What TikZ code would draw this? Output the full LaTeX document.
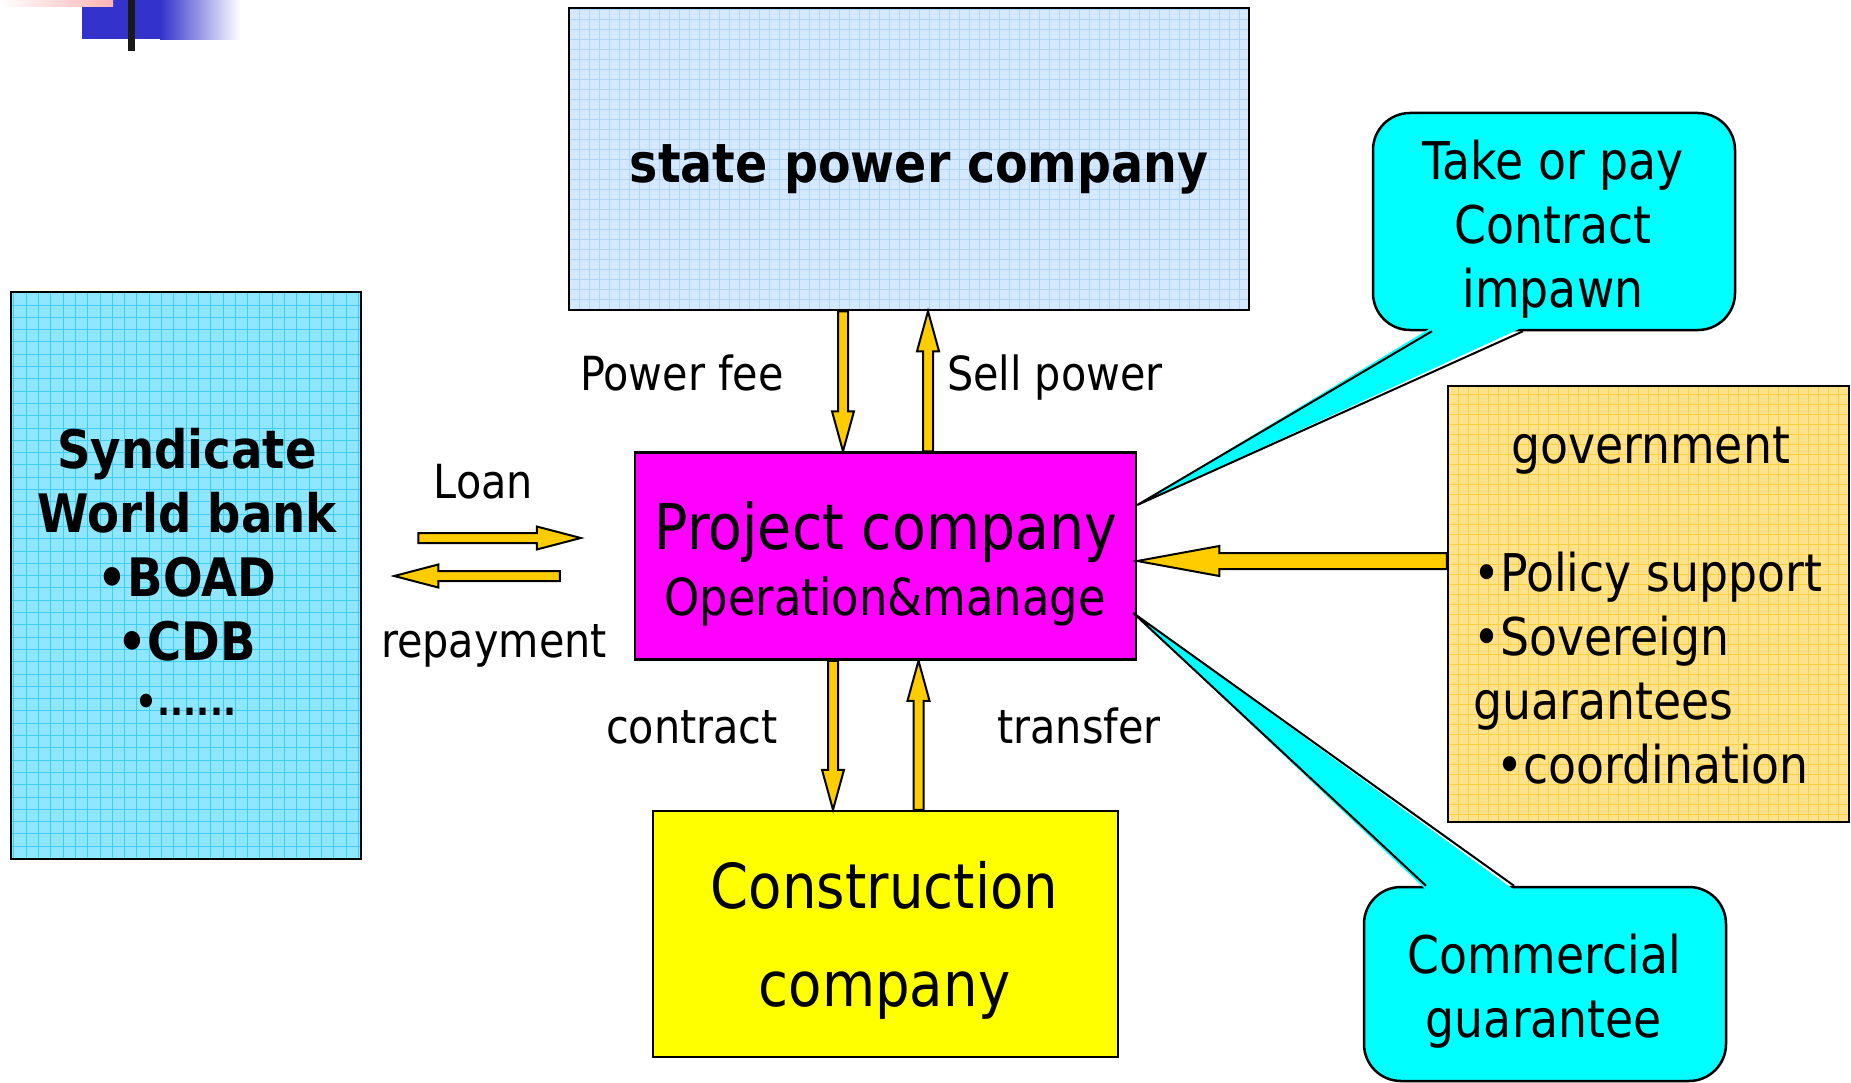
\documentclass[tikz,border=0pt]{standalone}
\usepackage{fontspec}
\setmainfont{DejaVu Sans}[FakeStretch=0.88]
\usetikzlibrary{calc}

\definecolor{statefill}{HTML}{D4E9FF}
\definecolor{stategrid}{HTML}{AFD5FF}
\definecolor{syndfill}{HTML}{8FE7FF}
\definecolor{syndgrid}{HTML}{3FCDF5}
\definecolor{govfill}{HTML}{FFE38C}
\definecolor{govgrid}{HTML}{FFCF40}
\definecolor{consfill}{HTML}{FFFF00}
\definecolor{projfill}{HTML}{FF00FF}
\definecolor{calloutcyan}{HTML}{00FFFF}
\definecolor{arrowfill}{HTML}{FFCC00}
\definecolor{barblue}{HTML}{3333CC}
\definecolor{barpink}{HTML}{FFB3B3}

\begin{document}
\begin{tikzpicture}[x=1pt,y=-1pt,
    box/.style={draw=black,line width=2.5pt,inner sep=0pt},
    gridded/.style n args={3}{fill=#1,path picture={
        \draw[#2,line width=0.7pt,step=#3] (path picture bounding box.south west) grid (path picture bounding box.north east);}},
    callout/.style={box,fill=calloutcyan,rounded corners=37pt},
    txt/.style={inner sep=0pt,anchor=base,align=center,font=\fontsize{#1}{64}\selectfont},
    btxt/.style={txt=#1,font=\fontsize{#1}{64}\selectfont\bfseries},
    blockarrow/.style n args={3}{draw=black,fill=arrowfill,line width=2pt,
      to path={
        ($(\tikztostart)!#1!90:(\tikztotarget)$)
        -- ($($(\tikztotarget)!#3!(\tikztostart)$)!#1!-90:(\tikztostart)$)
        -- ($($(\tikztotarget)!#3!(\tikztostart)$)!#2!-90:(\tikztostart)$)
        -- (\tikztotarget)
        -- ($($(\tikztotarget)!#3!(\tikztostart)$)!#2!90:(\tikztostart)$)
        -- ($($(\tikztotarget)!#3!(\tikztostart)$)!#1!90:(\tikztostart)$)
        -- ($(\tikztostart)!#1!-90:(\tikztotarget)$) -- cycle}}]
    \useasboundingbox (0,0) rectangle (1851,1083);

    % slide corner mark
    \fill[barblue] (82,0) rectangle (160,39);
    \shade[left color=barblue,right color=white] (160,0) rectangle (240,40);
    \shade[left color=white,right color=barpink] (0,0) rectangle (113,7);
    \fill[black!90] (128,0) rectangle (135,51);

    % boxes
    \node[box,gridded={statefill}{stategrid}{10pt},minimum width=680pt,minimum height=302pt] (state) at (909,159) {};
    \node[box,gridded={syndfill}{syndgrid}{12.3pt},minimum width=350pt,minimum height=567pt] (synd) at (186,575.5) {};
    \node[box,gridded={govfill}{govgrid}{10pt},minimum width=401pt,minimum height=436pt] (gov) at (1648.5,604) {};
    \node[box,fill=projfill,minimum width=501pt,minimum height=207pt] (proj) at (885.5,556) {};
    \node[box,fill=consfill,minimum width=465pt,minimum height=246pt] (cons) at (885.5,934) {};

    % callouts
    \node[callout,minimum width=362pt,minimum height=217pt] (takepay) at (1554,221.5) {};
    \node[callout,minimum width=362pt,minimum height=194pt] (comm) at (1545,984) {};
    \fill[calloutcyan] ([shift={(-122,-4)}]takepay.south) -- ([shift={(0,-51)}]proj.east) -- ([shift={(-31,-4)}]takepay.south) -- cycle;
    \draw[line width=2pt] ([xshift=-122pt]takepay.south) -- ([shift={(0,-51)}]proj.east) -- ([xshift=-31pt]takepay.south);
    \fill[calloutcyan] ([shift={(-119,4)}]comm.north) -- ([shift={(-4,57)}]proj.east) -- ([shift={(-31,4)}]comm.north) -- cycle;
    \draw[line width=2pt] ([xshift=-119pt]comm.north) -- ([shift={(-4,57)}]proj.east) -- ([xshift=-31pt]comm.north);

    % flows
    \draw[blockarrow={5pt}{11pt}{40pt}] ([xshift=-66pt]state.south) to ([xshift=-42.5pt]proj.north);
    \draw[blockarrow={5pt}{11pt}{40pt}] ([xshift=42.5pt]proj.north) to ([xshift=19pt]state.south);
    \draw[blockarrow={5pt}{11pt}{40pt}] ([xshift=-52.5pt]proj.south) to ([xshift=-52.5pt]cons.north);
    \draw[blockarrow={5pt}{11pt}{40pt}] ([xshift=33pt]cons.north) to ([xshift=33pt]proj.south);
    \draw[blockarrow={5pt}{11.5pt}{44pt}] ([shift={(56,-37.5)}]synd.east) to ([shift={(-53,-18)}]proj.west);
    \draw[blockarrow={5pt}{11.5pt}{44pt}] ([shift={(-74,20)}]proj.west) to ([shift={(32,0.5)}]synd.east);
    \draw[blockarrow={8pt}{15pt}{82pt}] ([shift={(0,-43)}]gov.west) to ([shift={(0,5)}]proj.east);

    % texts (base = last line)
    \node[btxt=54] (statetxt) at (919,183) {state power company};
    \node[btxt=53] (syndtxt) at (187,660) {Syndicate\\World bank\\•BOAD\\•CDB};
    \node[btxt=39] (synddots) at (186,715) {•......};
    \node[txt=63] (projtxt) at (886,549) {Project company};
    \node[txt=51] (projsub) at (885,615) {Operation\&manage};
    \node[txt=62,font=\fontsize{62}{98}\selectfont] (constxt) at (884.5,1006) {Construction\\company};
    \node[txt=52] (takepaytxt) at (1553,307) {Take or pay\\Contract\\impawn};
    \node[txt=52] (commtxt) at (1544,1037) {Commercial\\guarantee};
    \node[txt=52] (govtxt) at (1650.5,463) {government};
    \node[txt=52,align=left,anchor=base west] (govlist) at (1473,783) {•Policy support\\•Sovereign\\guarantees\\\hspace*{23pt}•coordination};

    % flow labels
    \node[txt=47] (feelbl) at (682,390) {Power fee};
    \node[txt=47] (selllbl) at (1055,390) {Sell power};
    \node[txt=47] (loanlbl) at (483.5,498) {Loan};
    \node[txt=47] (repaylbl) at (494,657) {repayment};
    \node[txt=47] (contractlbl) at (692,743) {contract};
    \node[txt=47] (transferlbl) at (1079,743) {transfer};
\end{tikzpicture}
\end{document}
